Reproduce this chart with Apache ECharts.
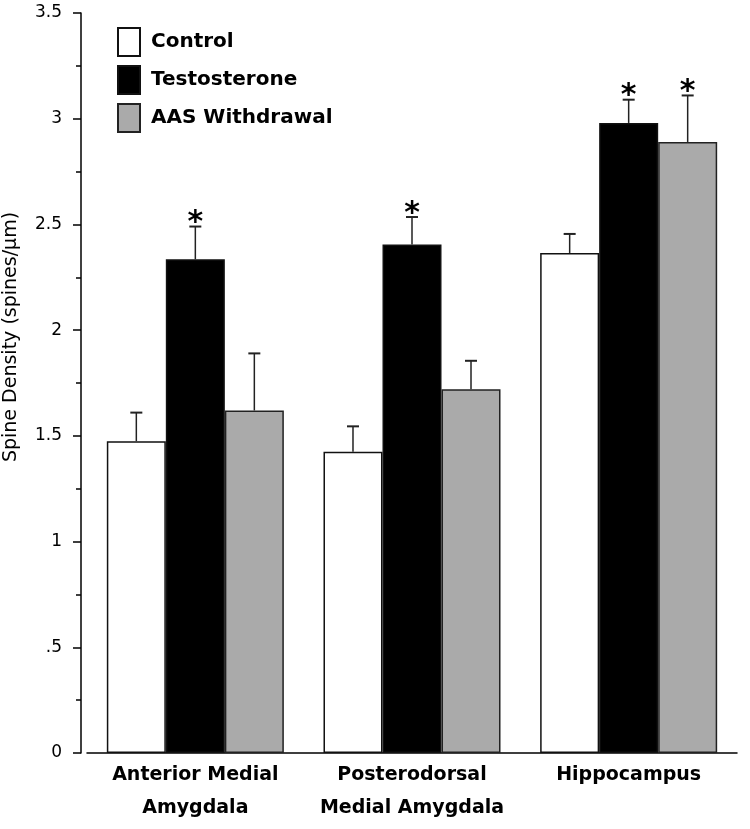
<!DOCTYPE html>
<html>
<head>
<meta charset="utf-8">
<script src="https://cdn.jsdelivr.net/npm/echarts@6/dist/echarts.min.js"></script>
<style>
html,body{margin:0;padding:0;background:#fff;}
#chart{width:750px;height:829px;}
</style>
</head>
<body>
<div id="chart"></div>
<script>
const categories = ['Anterior Medial\nAmygdala', 'Posterodorsal\nMedial Amygdala', 'Hippocampus'];
const seriesNames = ['Control', 'Testosterone', 'AAS Withdrawal'];
const control = [1.475, 1.425, 2.365];
const controlErr = [0.135, 0.12, 0.09];
const testosterone = [2.335, 2.405, 2.98];
const testosteroneErr = [0.155, 0.13, 0.11];
const withdrawal = [1.62, 1.72, 2.89];
const withdrawalErr = [0.27, 0.135, 0.22];
const controlSig = [false, false, false];
const testosteroneSig = [true, true, true];
const withdrawalSig = [false, false, true];
const yTickLabels = ['0', '.5', '1', '1.5', '2', '2.5', '3', '3.5'];

const GAP = 0.183;
const chart = echarts.init(document.getElementById('chart'), null, {renderer: 'canvas'});

function errSeries(k, vals, errs, sig) {
  return {
    type: 'custom',
    name: seriesNames[k] + ' err',
    z: 5,
    data: vals.map((v, i) => [i, v, errs[i], sig[i] ? 1 : 0]),
    renderItem: function (params, api) {
      const x = api.value(0), v = api.value(1), e = api.value(2), s = api.value(3);
      const base = api.coord([x, v]);
      const top = api.coord([x, v + e]);
      const band = api.size([1, 0])[0];
      const barW = band * (1 - GAP) / 3;
      const cx = base[0] + (k - 1) * barW;
      const children = [
        {type: 'line', shape: {x1: cx, y1: base[1], x2: cx, y2: top[1]}, style: {stroke: '#222', lineWidth: 1.5}},
        {type: 'line', shape: {x1: cx - 6, y1: top[1], x2: cx + 6, y2: top[1]}, style: {stroke: '#222', lineWidth: 2}}
      ];
      if (s) {
        children.push({type: 'text', style: {text: '*', x: cx, y: top[1] - 3, align: 'center', verticalAlign: 'middle', font: 'bold 30px "DejaVu Sans"', fill: '#000'}});
      }
      return {type: 'group', children: children};
    }
  };
}

const option = {
  animation: false,
  backgroundColor: '#fff',
  grid: {left: 87, right: 13, top: 13, bottom: 76, containLabel: false, outerBoundsMode: 'none'},
  legend: {
    orient: 'vertical', left: 117, top: 27, padding: 0,
    itemWidth: 22, itemHeight: 28, itemGap: 8,
    icon: 'rect',
    data: seriesNames,
    textStyle: {fontFamily: 'DejaVu Sans', fontSize: 20, fontWeight: 'bold', color: '#000', padding: [0, 0, 0, 6]}
  },
  xAxis: {
    type: 'category', data: categories,
    axisLine: {lineStyle: {color: '#000', width: 1.5}},
    axisTick: {show: false},
    axisLabel: {interval: 0, fontFamily: 'DejaVu Sans', fontSize: 19, fontWeight: 'bold', color: '#000', lineHeight: 33, margin: 6}
  },
  yAxis: {
    type: 'value', min: 0, max: 3.5, interval: 0.5, offset: 6,
    name: 'Spine Density (spines/µm)', nameLocation: 'middle', nameGap: 60,
    nameTextStyle: {fontFamily: 'DejaVu Sans', fontSize: 19, color: '#000', padding: [0, 0, 0, 92]},
    axisLine: {show: true, lineStyle: {color: '#000', width: 1.5}},
    axisTick: {show: true, length: 8, lineStyle: {color: '#000', width: 1.5}},
    minorTick: {show: true, splitNumber: 2, length: 5, lineStyle: {color: '#000', width: 1.5}},
    splitLine: {show: false},
    axisLabel: {
      margin: 19, fontFamily: 'DejaVu Sans', fontSize: 17, color: '#000',
      formatter: function (v) { return yTickLabels[Math.round(v / 0.5)]; }
    }
  },
  series: [
    {type: 'bar', name: seriesNames[0], data: control, barGap: '0%', barCategoryGap: (GAP * 100) + '%',
     itemStyle: {color: '#ffffff', borderColor: '#111', borderWidth: 1.5}},
    {type: 'bar', name: seriesNames[1], data: testosterone, barGap: '0%', barCategoryGap: (GAP * 100) + '%',
     itemStyle: {color: '#000000', borderColor: '#111', borderWidth: 1.5}},
    {type: 'bar', name: seriesNames[2], data: withdrawal, barGap: '0%', barCategoryGap: (GAP * 100) + '%',
     itemStyle: {color: '#aaaaaa', borderColor: '#222', borderWidth: 1.5}},
    errSeries(0, control, controlErr, controlSig),
    errSeries(1, testosterone, testosteroneErr, testosteroneSig),
    errSeries(2, withdrawal, withdrawalErr, withdrawalSig)
  ]
};
chart.setOption(option);
</script>
</body>
</html>
